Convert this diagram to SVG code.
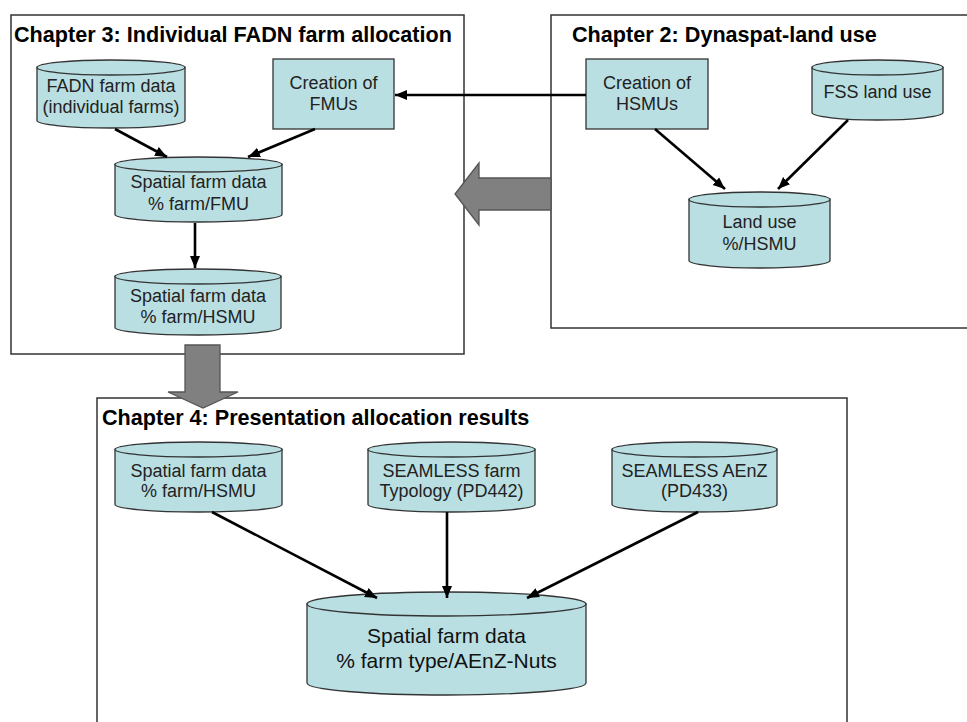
<svg xmlns="http://www.w3.org/2000/svg" width="967" height="722" viewBox="0 0 967 722">
<defs>
<marker id="ah" markerUnits="userSpaceOnUse" markerWidth="14" markerHeight="12" refX="12" refY="6" orient="auto">
<path d="M0,1 L12,6 L0,11 Z" fill="#000"/>
</marker>
<style>
.box{fill:#fff;stroke:#333;stroke-width:1.5}
.node{fill:#b9dfe2;stroke:#333;stroke-width:1.3}
.t{font-family:"Liberation Sans",Arial,sans-serif;font-size:18px;fill:#222;text-anchor:middle}
.tb{font-family:"Liberation Sans",Arial,sans-serif;font-size:21px;fill:#111;text-anchor:middle}
.title{font-family:"Liberation Sans",Arial,sans-serif;font-size:21.6px;font-weight:bold;fill:#000}
.big{fill:#808080;stroke:#555;stroke-width:1.3}
.c{stroke:#000;stroke-width:2.6;fill:none;marker-end:url(#ah)}
</style>
</defs>
<rect width="967" height="722" fill="#fff"/>

<g id="chapter3">
<rect class="box" x="11" y="15" width="453" height="339"/>
<text class="title" x="14" y="41.5">Chapter 3: Individual FADN farm allocation</text>
</g>
<g id="chapter2">
<rect class="box" x="551" y="15" width="430" height="313"/>
<text class="title" x="572" y="42">Chapter 2: Dynaspat-land use</text>
</g>
<g id="chapter4">
<rect class="box" x="97" y="398" width="750" height="340"/>
<text class="title" x="102" y="425">Chapter 4: Presentation allocation results</text>
</g>

<g id="bigarrows">
<polygon class="big" points="551,178 479,178 479,163 455,194 479,225 479,210 551,210"/>
<polygon class="big" points="185,345 220,345 220,392 238,392 203,408 168,392 185,392"/>
</g>

<g id="fadn">
<path class="node" d="M37,67.5 L37,120.5 A74,7.5 0 0 0 185,120.5 L185,67.5 Z"/>
<ellipse class="node" cx="111" cy="67.5" rx="74" ry="7.5"/>
<text class="t" x="111" y="92">FADN farm data</text>
<text class="t" x="111" y="113">(individual farms)</text>
</g>
<g id="fmus">
<rect class="node" x="273" y="59" width="121" height="70"/>
<text class="t" x="333.5" y="89">Creation of</text>
<text class="t" x="333.5" y="110">FMUs</text>
</g>
<g id="spatialFMU">
<path class="node" d="M115,164.5 L115,214.5 A83.5,7.5 0 0 0 282,214.5 L282,164.5 Z"/>
<ellipse class="node" cx="198.5" cy="164.5" rx="83.5" ry="7.5"/>
<text class="t" x="198.5" y="188">Spatial farm data</text>
<text class="t" x="198.5" y="210">% farm/FMU</text>
</g>
<g id="spatialHSMU">
<path class="node" d="M115,276.5 L115,327.5 A83,7.5 0 0 0 281,327.5 L281,276.5 Z"/>
<ellipse class="node" cx="198" cy="276.5" rx="83" ry="7.5"/>
<text class="t" x="198" y="302">Spatial farm data</text>
<text class="t" x="198" y="323">% farm/HSMU</text>
</g>

<g id="hsmus">
<rect class="node" x="586" y="59" width="122" height="70"/>
<text class="t" x="647" y="89">Creation of</text>
<text class="t" x="647" y="110">HSMUs</text>
</g>
<g id="fss">
<path class="node" d="M812,67.5 L812,112.5 A65.5,7.5 0 0 0 943,112.5 L943,67.5 Z"/>
<ellipse class="node" cx="877.5" cy="67.5" rx="65.5" ry="7.5"/>
<text class="t" x="877.5" y="98">FSS land use</text>
</g>
<g id="landuse">
<path class="node" d="M689,199.5 L689,260.5 A70.5,7.5 0 0 0 830,260.5 L830,199.5 Z"/>
<ellipse class="node" cx="759.5" cy="199.5" rx="70.5" ry="7.5"/>
<text class="t" x="759.5" y="228">Land use</text>
<text class="t" x="759.5" y="250">%/HSMU</text>
</g>

<g id="c4hsmu">
<path class="node" d="M115,449.5 L115,504.5 A83.5,7.5 0 0 0 282,504.5 L282,449.5 Z"/>
<ellipse class="node" cx="198.5" cy="449.5" rx="83.5" ry="7.5"/>
<text class="t" x="198.5" y="477">Spatial farm data</text>
<text class="t" x="198.5" y="497">% farm/HSMU</text>
</g>
<g id="typology">
<path class="node" d="M368,449.5 L368,504.5 A83.5,7.5 0 0 0 535,504.5 L535,449.5 Z"/>
<ellipse class="node" cx="451.5" cy="449.5" rx="83.5" ry="7.5"/>
<text class="t" x="451.5" y="477">SEAMLESS farm</text>
<text class="t" x="451.5" y="497">Typology (PD442)</text>
</g>
<g id="aenz">
<path class="node" d="M612,449.5 L612,504.5 A82.5,7.5 0 0 0 777,504.5 L777,449.5 Z"/>
<ellipse class="node" cx="694.5" cy="449.5" rx="82.5" ry="7.5"/>
<text class="t" x="694.5" y="477">SEAMLESS AEnZ</text>
<text class="t" x="694.5" y="497">(PD433)</text>
</g>
<g id="result">
<path class="node" d="M307,604 L307,683 A139.5,12 0 0 0 586,683 L586,604 Z"/>
<ellipse class="node" cx="446.5" cy="604" rx="139.5" ry="12"/>
<text class="tb" x="446.5" y="643">Spatial farm data</text>
<text class="tb" x="446.5" y="668">% farm type/AEnZ-Nuts</text>
</g>

<g id="connectors">
<line class="c" x1="586" y1="95" x2="395" y2="95"/>
<line class="c" x1="115" y1="129" x2="167" y2="157"/>
<line class="c" x1="315" y1="129" x2="248" y2="157"/>
<line class="c" x1="195" y1="223" x2="195" y2="268"/>
<line class="c" x1="655" y1="129" x2="725" y2="189"/>
<line class="c" x1="848" y1="120" x2="778" y2="189"/>
<line class="c" x1="212" y1="512" x2="377" y2="598"/>
<line class="c" x1="447" y1="512" x2="447" y2="598"/>
<line class="c" x1="698" y1="512" x2="527" y2="598"/>
</g>
</svg>
